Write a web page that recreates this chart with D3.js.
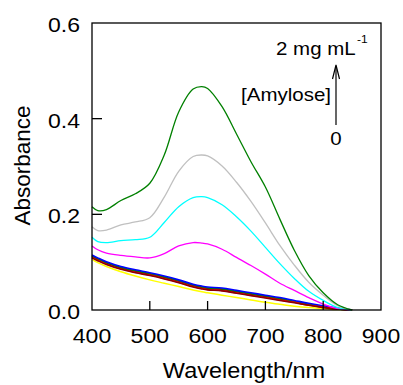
<!DOCTYPE html>
<html>
<head>
<meta charset="utf-8">
<script src="https://cdn.jsdelivr.net/npm/d3@7"></script>
<style>
  html, body { margin: 0; padding: 0; background: #fff; }
  svg { display: block; font-family: "Liberation Sans", Arial, sans-serif; }
</style>
</head>
<body>
<div id="chart"></div>
<script>
// wavelength grid (nm)
const wavelengths = [400, 410, 425, 450, 475, 500, 525, 550, 575, 590, 600, 625, 650, 675, 700, 725, 750, 775, 800, 825, 850];

// absorbance spectra, highest [amylose] first
const greenHigh = [0.216, 0.208, 0.210, 0.229, 0.243, 0.265, 0.324, 0.414, 0.462, 0.467, 0.463, 0.425, 0.368, 0.310, 0.257, 0.190, 0.125, 0.072, 0.036, 0.011, 0];
const gray      = [0.174, 0.166, 0.167, 0.178, 0.184, 0.193, 0.236, 0.290, 0.321, 0.324, 0.322, 0.301, 0.267, 0.227, 0.182, 0.135, 0.094, 0.058, 0.031, 0.009, 0];
const cyan      = [0.152, 0.143, 0.141, 0.145, 0.147, 0.152, 0.183, 0.216, 0.235, 0.237, 0.235, 0.220, 0.195, 0.165, 0.131, 0.097, 0.066, 0.039, 0.020, 0.005, 0];
const magenta   = [0.134, 0.126, 0.119, 0.114, 0.111, 0.109, 0.118, 0.134, 0.141, 0.140, 0.138, 0.127, 0.110, 0.093, 0.075, 0.056, 0.041, 0.026, 0.0125, 0.003, 0];
const blue      = [0.115, 0.109, 0.101, 0.091, 0.084, 0.078, 0.071, 0.063, 0.054, 0.050, 0.048, 0.046, 0.041, 0.036, 0.031, 0.026, 0.020, 0.014, 0.009, 0.004, 0];
const greenLow  = [0.113, 0.107, 0.099, 0.089, 0.082, 0.076, 0.069, 0.061, 0.052, 0.048, 0.046, 0.044, 0.039, 0.034, 0.029, 0.024, 0.018, 0.012, 0.007, 0.003, 0];
const black     = [0.112, 0.106, 0.098, 0.088, 0.081, 0.075, 0.068, 0.060, 0.051, 0.047, 0.045, 0.043, 0.038, 0.033, 0.028, 0.023, 0.017, 0.011, 0.006, 0.002, 0];
const red       = [0.110, 0.104, 0.096, 0.086, 0.079, 0.073, 0.066, 0.058, 0.049, 0.045, 0.043, 0.041, 0.036, 0.031, 0.026, 0.021, 0.016, 0.010, 0.006, 0.002, 0];
const maroon    = [0.109, 0.103, 0.095, 0.085, 0.078, 0.072, 0.065, 0.057, 0.048, 0.044, 0.042, 0.040, 0.035, 0.030, 0.025, 0.020, 0.015, 0.010, 0.005, 0.002, 0];
const yellow    = [0.106, 0.099, 0.091, 0.080, 0.071, 0.063, 0.056, 0.049, 0.042, 0.038, 0.036, 0.031, 0.026, 0.021, 0.016, 0.012, 0.008, 0.005, 0.003, 0.001, 0];

const xTicks = [400, 500, 600, 700, 800, 900];
const yTicks = [0.0, 0.2, 0.4, 0.6];

// drawing order: bottom cluster first, big peaks on top
const series = [
  { values: yellow,    color: '#ffff00', w: 1.5 },
  { values: black,     color: '#000000', w: 1.5 },
  { values: greenLow,  color: '#008000', w: 1.5 },
  { values: blue,      color: '#0000ff', w: 1.6 },
  { values: red,       color: '#ff0000', w: 1.5 },
  { values: maroon,    color: '#8b0000', w: 1.6 },
  { values: magenta,   color: '#ff00ff', w: 1.3 },
  { values: cyan,      color: '#00ffff', w: 1.3 },
  { values: gray,      color: '#c0c0c0', w: 1.3 },
  { values: greenHigh, color: '#008000', w: 1.3 }
];

const width = 403, height = 385;
const plot = { left: 92, right: 381, top: 23, bottom: 310 };

const svg = d3.select('#chart')
  .append('svg')
  .attr('width', width)
  .attr('height', height);

const x = d3.scaleLinear().domain([400, 900]).range([plot.left, plot.right]);
const y = d3.scaleLinear().domain([0, 0.6]).range([plot.bottom, plot.top]);

// text is drawn a bit squashed vertically, like the original
function label(str, px, py, anchor, size) {
  return svg.append('g')
    .attr('transform', `translate(${px},${py}) scale(1,0.9)`)
    .append('text')
    .attr('text-anchor', anchor)
    .style('font-size', size + 'px')
    .attr('fill', '#000')
    .text(str);
}

const line = d3.line()
  .x((d, i) => x(wavelengths[i]))
  .y(d => y(d))
  .curve(d3.curveCatmullRom.alpha(0.5));

svg.selectAll('path.spec')
  .data(series).enter()
  .append('path')
  .attr('class', 'spec')
  .attr('d', d => line(d.values))
  .attr('fill', 'none')
  .attr('stroke', d => d.color)
  .attr('stroke-width', d => d.w)
  .attr('stroke-linejoin', 'round');

// frame
svg.append('rect')
  .attr('x', plot.left)
  .attr('y', plot.top)
  .attr('width', plot.right - plot.left)
  .attr('height', plot.bottom - plot.top)
  .attr('fill', 'none')
  .attr('stroke', '#000')
  .attr('stroke-width', 1.3);

// inward ticks
svg.selectAll('line.xt')
  .data(xTicks.slice(1, -1)).enter()
  .append('line')
  .attr('x1', d => x(d)).attr('x2', d => x(d))
  .attr('y1', plot.bottom).attr('y2', plot.bottom - 9)
  .attr('stroke', '#000').attr('stroke-width', 1.3);

svg.selectAll('line.yt')
  .data(yTicks.slice(1, -1)).enter()
  .append('line')
  .attr('x1', plot.left).attr('x2', plot.left + 10)
  .attr('y1', d => y(d)).attr('y2', d => y(d))
  .attr('stroke', '#000').attr('stroke-width', 1.3);

// tick labels
xTicks.forEach(t => label(String(t), x(t), 343, 'middle', 23));
yTicks.forEach(t => label(d3.format('.1f')(t), 80, y(t) + 9, 'end', 23));

// axis titles
label('Wavelength/nm', 244, 378, 'middle', 23.5);
svg.append('text')
  .attr('transform', `translate(29.5,${(plot.top + plot.bottom) / 2 - 1}) rotate(-90)`)
  .attr('text-anchor', 'middle')
  .style('font-size', '22.5px')
  .text('Absorbance');

// annotation
label('2 mg mL', 276, 55, 'start', 20.5);
label('-1', 357, 43, 'start', 12);
label('[Amylose]', 331, 101, 'end', 20.5);
label('0', 336, 145, 'middle', 20.5);

svg.append('line')
  .attr('x1', 336).attr('x2', 336)
  .attr('y1', 125).attr('y2', 66)
  .attr('stroke', '#000').attr('stroke-width', 1.2);
svg.append('path')
  .attr('d', 'M332.5,79 L336,65 L339.5,79')
  .attr('fill', 'none')
  .attr('stroke', '#000')
  .attr('stroke-width', 1.2);
</script>
</body>
</html>
